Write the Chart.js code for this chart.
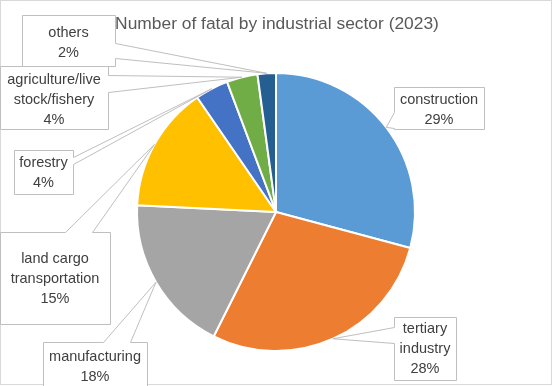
<!DOCTYPE html>
<html>
<head>
<meta charset="utf-8">
<script src="https://cdn.jsdelivr.net/npm/chart.js@4.4.1/dist/chart.umd.min.js"></script>
<style>
  html, body { margin: 0; padding: 0; background: #ffffff; }
  #wrap { position: relative; width: 553px; height: 386px; }
</style>
</head>
<body>
<div id="wrap"><canvas id="c" width="553" height="386"></canvas></div>
<script>
// ---- data ----
const chartTitle = 'Number of fatal by industrial sector (2023)';
const categories = ['construction', 'tertiary industry', 'manufacturing', 'land cargo transportation', 'forestry', 'agriculture/livestock/fishery', 'others'];
const labelLines = [['construction'], ['tertiary', 'industry'], ['manufacturing'], ['land cargo', 'transportation'], ['forestry'], ['agriculture/live', 'stock/fishery'], ['others']];
const fatalities = [219, 212, 138, 110, 29, 27, 16];
const sliceColors = ['#5B9BD5', '#ED7D31', '#A5A5A5', '#FFC000', '#4472C4', '#70AD47', '#255E91'];

// ---- callout layout (positions only) ----
const calloutBoxes = [
  { x: 394, y: 87,  w: 90,  h: 42, side: 'left',  b1: 25, b2: 41, dy: 1.5 },
  { x: 394, y: 317, w: 62,  h: 63, side: 'left',  b1: 10, b2: 26, dy: 0.5 },
  { x: 43,  y: 342, w: 104, h: 50, side: 'top',   b1: 60, b2: 87, dy: -0.5 },
  { x: 0,   y: 232, w: 110, h: 92, side: 'top',   b1: 65, b2: 92, dy: 1 },
  { x: 14,  y: 150, w: 59,  h: 44, side: 'right', b1: 7,  b2: 14, dy: 1 },
  { x: 0,   y: 66,  w: 108, h: 63, side: 'right', b1: 9,  b2: 26, dy: 2 },
  { x: 22,  y: 15,  w: 93,  h: 51, side: 'right', b1: 28, b2: 43, dy: 2.5 }
];

const total = fatalities.reduce((a, b) => a + b, 0);

const decorPlugin = {
  id: 'decor',
  beforeDraw(chart) {
    const ctx = chart.ctx;
    ctx.save();
    ctx.fillStyle = '#ffffff';
    ctx.fillRect(0, 0, chart.width, chart.height);
    ctx.restore();
  },
  afterDraw(chart) {
    const ctx = chart.ctx;
    const meta = chart.getDatasetMeta(0);
    ctx.save();
    // frame
    ctx.strokeStyle = '#D9D9D9';
    ctx.lineWidth = 1;
    ctx.strokeRect(0.5, 0.5, 551, 384);
    // title
    ctx.fillStyle = '#595959';
    ctx.font = "17.4px 'Liberation Sans', Arial, sans-serif";
    ctx.textAlign = 'center';
    ctx.textBaseline = 'middle';
    ctx.fillText(chartTitle, 277, 24);

    // callouts
    meta.data.forEach((arc, i) => {
      const p = arc.getProps(['x', 'y', 'startAngle', 'endAngle', 'outerRadius'], true);
      const mid = (p.startAngle + p.endAngle) / 2;
      const tx = p.x + Math.cos(mid) * p.outerRadius;
      const ty = p.y + Math.sin(mid) * p.outerRadius;
      const b = calloutBoxes[i];
      const x = b.x + 0.5, y = b.y + 0.5, w = b.w, h = b.h;
      const pts = [];
      pts.push([x, y]);
      if (b.side === 'top') { pts.push([x + b.b1, y], [tx, ty], [x + b.b2, y]); }
      pts.push([x + w, y]);
      if (b.side === 'right') { pts.push([x + w, y + b.b1], [tx, ty], [x + w, y + b.b2]); }
      pts.push([x + w, y + h]);
      if (b.side === 'bottom') { pts.push([x + b.b2, y + h], [tx, ty], [x + b.b1, y + h]); }
      pts.push([x, y + h]);
      if (b.side === 'left') { pts.push([x, y + b.b2], [tx, ty], [x, y + b.b1]); }
      ctx.beginPath();
      pts.forEach((pt, k) => k === 0 ? ctx.moveTo(pt[0], pt[1]) : ctx.lineTo(pt[0], pt[1]));
      ctx.closePath();
      ctx.fillStyle = '#ffffff';
      ctx.fill();
      ctx.strokeStyle = '#BFBFBF';
      ctx.lineWidth = 1;
      ctx.stroke();

      const pct = Math.round(fatalities[i] / total * 100) + '%';
      const lines = labelLines[i].concat([pct]);
      ctx.fillStyle = '#404040';
      ctx.font = "14.5px 'Liberation Sans', Arial, sans-serif";
      ctx.textAlign = 'center';
      ctx.textBaseline = 'middle';
      const cx = b.x + b.w / 2;
      const cy = b.y + b.h / 2 + b.dy;
      const lh = 20;
      lines.forEach((t, k) => {
        ctx.fillText(t, cx, cy + (k - (lines.length - 1) / 2) * lh);
      });
    });
    ctx.restore();
  }
};

new Chart(document.getElementById('c'), {
  type: 'pie',
  data: {
    labels: categories,
    datasets: [{
      data: fatalities,
      backgroundColor: sliceColors,
      borderColor: '#ffffff',
      borderWidth: 2
    }]
  },
  options: {
    responsive: false,
    animation: false,
    events: [],
    layout: { padding: { left: 136, right: 137, top: 72, bottom: 34 } },
    plugins: {
      legend: { display: false },
      title: { display: false },
      tooltip: { enabled: false }
    }
  },
  plugins: [decorPlugin]
});
</script>
</body>
</html>
